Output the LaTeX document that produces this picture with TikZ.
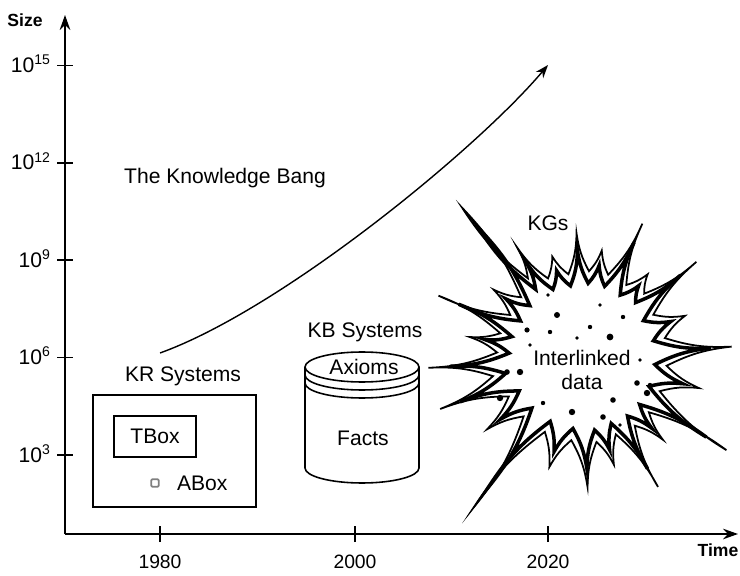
\documentclass[tikz,border=0pt]{standalone}
\usepackage{fontspec}
\setmainfont{Liberation Sans}
\usetikzlibrary{arrows.meta}

% spike outline of the explosion: angle/radius pairs, tips and valleys
\def\boomlist{13/84, 22/110, 31/82, 40/148, 46/88, 52/105, 59/84, 66/146,
  73/86, 80/108, 86/86, 93/124, 100/84, 107/105, 114/86, 121/127, 125/96,
  129/192, 136/86, 143/112, 150/84, 157/157, 164/86, 170/115, 177/86,
  184/155, 192/92, 200/152, 208/84, 217/120, 225/84, 234/186, 243/84,
  253/115, 262/84, 272/130, 279/86, 286/112, 293/84, 300/150, 307/86,
  314/115, 320/86, 327/171, 336/84, 345/120, 354/84}

\begin{document}
\begin{tikzpicture}[
      x=0.02cm, y=0.02cm,
      axis/.style={line width=1.1pt, -{Stealth[length=8.5pt,width=6pt]}},
      ticmark/.style={line width=1pt},
      lbl/.style={font=\fontsize{12}{14}\selectfont, inner sep=1pt},
      yearlbl/.style={font=\fontsize{11}{13}\selectfont},
      axname/.style={font=\bfseries\fontsize{10}{12}\selectfont},
      sysbox/.style={draw, line width=0.9pt},
      boom/.style={line width=1pt, line join=miter, miter limit=25}
    ]
      \useasboundingbox (0,0) rectangle (740,575);

      % axes
      \coordinate (O) at (65,41);
      \coordinate (ytop) at (65,560);
      \coordinate (xend) at (738,41);
      \draw[axis] (O) -- (ytop);
      \draw[axis] (O) -- (xend);
      \node[axname] (size) at (25,555) {Size};
      \node[axname] (time) at (718,25) {Time};

      \foreach \e [count=\i] in {3,6,9,12,15} {
        \pgfmathsetmacro{\yy}{22.6+97.4*\i}
        \draw[ticmark] (57,\yy) -- (73,\yy);
        \node[lbl, anchor=base east] (e\e) at (53,\yy-7) {10\textsuperscript{\e}};
      }
      \foreach \yr/\xx in {1980/160, 2000/355, 2020/548} {
        \draw[ticmark] (\xx,33) -- (\xx,49);
        \node[yearlbl] (y\yr) at (\xx,13) {\yr};
      }

      % growth curve
      \coordinate (bangstart) at (160,222);
      \coordinate (bangend) at (548,510);
      \draw[line width=0.8pt, -{Stealth[length=7.5pt,width=5.5pt]}]
        (bangstart) .. controls (282,266) and (477,426) .. (bangend);
      \node[lbl] (bang) at (225,397) {The Knowledge Bang};

      % KR systems
      \node[lbl] (krlbl) at (183,199) {KR Systems};
      \node[sysbox, minimum width=3.26cm, minimum height=2.24cm] (kr) at (174.5,124) {};
      \node[sysbox, lbl, minimum width=1.64cm, minimum height=0.82cm] (tbox) at (155,138.5) {TBox};
      \node[draw=gray, line width=1pt, minimum size=0.15cm, inner sep=0pt,
            rounded corners=0.6pt] (aboxsq) at (155,92) {};
      \node[lbl, anchor=west] (abox) at (175,92) {ABox};

      % KB systems cylinder
      \node[lbl] (kblbl) at (365,243) {KB Systems};
      \draw[sysbox] (305,208) -- (305,107)
        arc[start angle=180, end angle=360, x radius=57, y radius=15] -- (419,208);
      \draw[sysbox] (362,208) ellipse[x radius=57, y radius=15];
      \foreach \yy in {200,192}
        \draw[sysbox] (305,\yy) arc[start angle=180, end angle=360, x radius=57, y radius=15];
      \node[lbl] (axioms) at (364,208) {Axioms};
      \node[lbl] (facts) at (363,137) {Facts};

      % KGs explosion, curved spikes drawn twice
      \begin{scope}[shift={(583,218)}]
        \draw[boom] (4:149) \foreach \a/\r in \boomlist {to[bend left=10] (\a:\r)}
          to[bend left=10] cycle;
        \draw[boom, line width=2pt, scale=0.86] (4:149)
          \foreach \a/\r in \boomlist {to[bend left=10] (\a:\r)} to[bend left=10] cycle;
      \end{scope}
      \foreach \p/\s in {(527,245)/2.6, (520,203)/3.2, (610,238)/3.4, (572,163)/3.2,
          (500,177)/3.2, (603,158)/2.8, (647,182)/3.2, (590,248)/2.2, (557,260)/3,
          (623,258)/2.2, (637,192)/2.8, (543,172)/2.2, (507,203)/2.8, (550,243)/2.2,
          (577,237)/1.8, (613,175)/2.8, (650,190)/2.2, (530,230)/1.8, (640,215)/1.8,
          (600,270)/1.8, (548,280)/1.8, (620,150)/1.8}
        \fill \p circle[radius=\s];
      \node[lbl] (kgs) at (548,352) {KGs};
      \node[lbl, align=center] (data) at (582,205) {Interlinked\\data};
    \end{tikzpicture}
\end{document}
